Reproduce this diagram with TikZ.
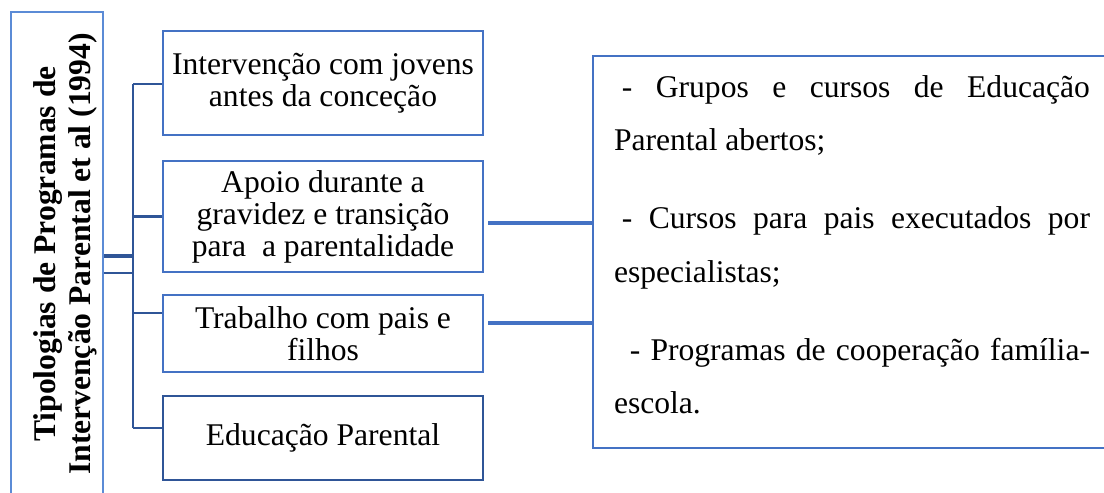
\documentclass[tikz,border=0pt]{standalone}
\usepackage{fontspec}
\setmainfont{LiberationSerif}[Extension=.ttf, UprightFont=*-Regular, BoldFont=*-Bold, ItalicFont=*-Italic, BoldItalicFont=*-BoldItalic]
\usepackage{graphicx}
\setlength{\parindent}{0pt}
\definecolor{boxblue}{HTML}{4472C4}
\definecolor{treeblue}{HTML}{2F5597}
\definecolor{titleblue}{HTML}{5B8BD6}

\begin{document}
\begin{tikzpicture}[
  x=0.5pt, y=-0.5pt,
  box/.style={rectangle, draw=boxblue, line width=1pt, minimum width=160pt, align=center, inner sep=2pt, font=\fontsize{15.8}{16}\selectfont},
  link/.style={draw=treeblue, line width=1.2pt},
  wire/.style={draw=boxblue, line width=1.8pt}
]
\useasboundingbox (0,0) rectangle (1104,493);
\clip (0,0) rectangle (1104,493);

% title box on the left
\node[draw=titleblue, line width=1pt, minimum width=46pt, minimum height=242pt, inner sep=0pt] (tip) at (57,254)
  {\hspace*{9pt}\rotatebox{90}{\fontsize{15.8}{17.5}\selectfont\bfseries\begin{tabular}{@{}c@{}}Tipologias de Programas de\\Intervenção Parental et al (1994)\end{tabular}}};

% the four types
\node[box, minimum height=52pt] (b1) at (323,83) {Intervenção com jovens\\antes da conceção};
\node[box, minimum height=55.5pt, below of=b1, node distance=66.75pt] (b2) {Apoio durante a\\gravidez e transição\\para~ a parentalidade};
\node[box, minimum height=38.5pt, below of=b2, node distance=58.5pt] (b3) {Trabalho com pais e\\filhos};
\node[box, draw=treeblue, minimum height=42pt, below of=b3, node distance=52.25pt] (b4) {Educação Parental};

% examples box
\node[rectangle, draw=boxblue, line width=1pt, text width=238pt, inner xsep=10.5pt, minimum height=196pt,
  align=justify, font=\fontsize{15.8}{26.75}\selectfont] (rb) at (852,252)
  {\hspace*{0.25em}- Grupos e cursos de Educação\linebreak Parental abertos;\par\vspace{12.25pt}
   \hspace*{0.25em}- Cursos para pais executados por\linebreak especialistas;\par\vspace{12.25pt}
   \hspace*{0.5em}- Programas de cooperação família-\linebreak escola.\par\vspace{7pt}\hrule height 0pt width 0pt};

% tree
\coordinate (s1) at (133,84);
\coordinate (s3) at (133,313);
\coordinate (s4) at (133,428);
\coordinate (j1) at (133,256);
\coordinate (j2) at (133,273);
\draw[link] (s1) -- (s4);
\draw[link] (s1) -- (s1 -| b1.west);
\draw[link] (b2.west -| s1) -- (b2.west);
\draw[link] (s3) -- (s3 -| b3.west);
\draw[link] (s4) -- (s4 -| b4.west);
\draw[link, line width=2pt] (tip.east |- j1) -- (j1);
\draw[link, line width=1pt] (tip.east |- j2) -- (j2);

% links to the examples
\coordinate (w2) at (485,223);
\coordinate (w3) at (485,323);
\draw[wire, shorten <=2pt] (b2.east |- w2) -- (rb.west |- w2);
\draw[wire, shorten <=2pt] (b3.east |- w3) -- (rb.west |- w3);
\end{tikzpicture}
\end{document}
